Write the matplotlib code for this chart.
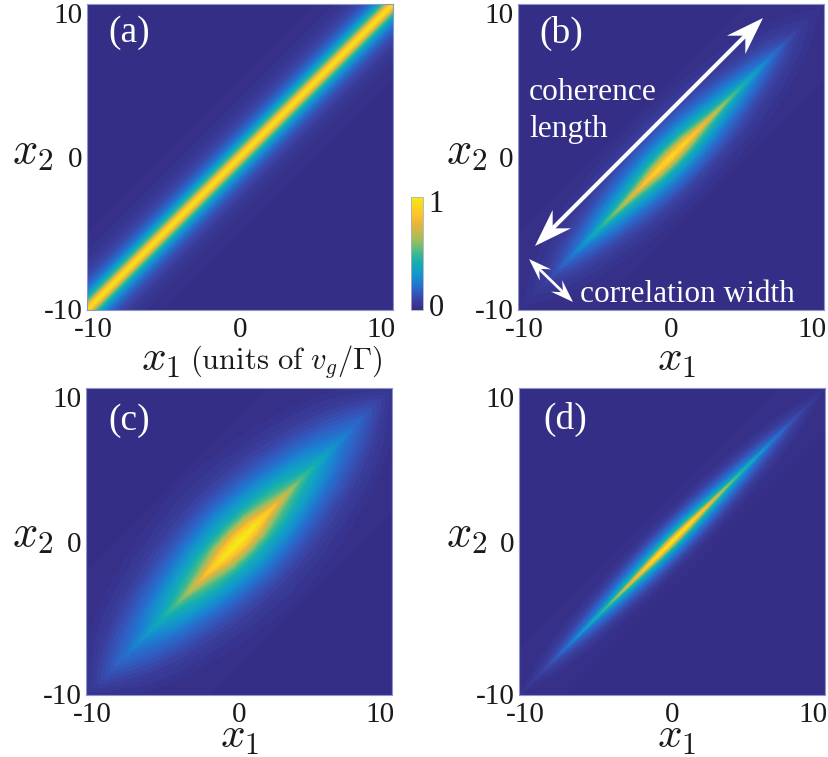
import numpy as np
import matplotlib
matplotlib.use('Agg')
import matplotlib.pyplot as plt
from matplotlib.colors import LinearSegmentedColormap
from matplotlib.cm import ScalarMappable
from matplotlib.patches import Polygon
from matplotlib.lines import Line2D
from matplotlib.transforms import Affine2D, ScaledTranslation

plt.rcParams['font.family'] = ['Liberation Serif', 'DejaVu Serif']
plt.rcParams['mathtext.fontset'] = 'cm'

W, H = 829, 757

# values: s = (x1+x2)/2 along the diagonal, d = |x1-x2| across it
s_rows = [0, 1, 2, 3, 4, 5, 6, 7, 8, 9, 10]

s_a = [0, 10]
d_a = [0, .25, .5, .75, 1, 1.5, 2, 2.5, 3, 3.5, 4, 5]
val_a = [[.96, .78, .55, .42, .32, .19, .12, .08, .05, .03, .015, 0],
         [.96, .78, .55, .42, .32, .19, .12, .08, .05, .03, .015, 0]]

d_b = [0, .3, .6, 1, 1.5, 2, 3, 4, 5]
val_b = [[.93, .78, .60, .42, .31, .22, .10, .04, .008],
         [.90, .73, .56, .40, .30, .21, .095, .035, .007],
         [.80, .58, .46, .36, .26, .185, .085, .03, .005],
         [.66, .47, .38, .30, .215, .155, .07, .025, .003],
         [.52, .38, .31, .25, .175, .12, .055, .02, 0],
         [.39, .29, .24, .19, .13, .09, .04, .012, 0],
         [.28, .21, .175, .135, .095, .065, .025, .004, 0],
         [.18, .14, .115, .09, .062, .04, .012, 0, 0],
         [.09, .07, .06, .045, .03, .018, .003, 0, 0],
         [.04, .03, .024, .015, .008, .003, 0, 0, 0],
         [.012, .007, .003, 0, 0, 0, 0, 0, 0]]

d_c = [0, .5, 1, 1.5, 2, 3, 4, 5, 6, 7, 8]
val_c = [[1, .88, .70, .52, .41, .28, .175, .105, .06, .03, .012],
         [.97, .82, .65, .50, .39, .265, .165, .10, .055, .027, .01],
         [.86, .66, .53, .44, .36, .24, .15, .09, .05, .022, .008],
         [.69, .53, .45, .38, .31, .205, .13, .08, .04, .017, .005],
         [.53, .43, .37, .32, .26, .17, .105, .062, .03, .01, 0],
         [.41, .34, .30, .255, .21, .14, .085, .045, .018, .004, 0],
         [.32, .26, .225, .195, .16, .105, .06, .028, .007, 0, 0],
         [.24, .20, .17, .145, .12, .07, .036, .01, 0, 0, 0],
         [.17, .145, .12, .095, .07, .035, .008, 0, 0, 0, 0],
         [.10, .08, .055, .035, .015, 0, 0, 0, 0, 0, 0],
         [.02, .01, .002, 0, 0, 0, 0, 0, 0, 0, 0]]

d_d = [0, .15, .3, .5, .75, 1, 1.5, 2, 2.5, 3]
val_d = [[.97, .80, .60, .42, .30, .22, .11, .045, .012, 0],
         [.95, .76, .56, .40, .29, .21, .105, .04, .01, 0],
         [.85, .60, .46, .35, .26, .19, .095, .035, .008, 0],
         [.70, .47, .38, .30, .22, .16, .08, .03, .005, 0],
         [.53, .36, .30, .24, .18, .13, .06, .02, 0, 0],
         [.40, .28, .23, .19, .14, .10, .045, .012, 0, 0],
         [.30, .21, .175, .145, .105, .075, .03, .006, 0, 0],
         [.20, .15, .125, .10, .07, .048, .015, 0, 0, 0],
         [.12, .09, .075, .06, .04, .024, .004, 0, 0, 0],
         [.06, .04, .03, .02, .01, .003, 0, 0, 0, 0],
         [.015, .008, .004, 0, 0, 0, 0, 0, 0, 0]]

ticks = [-10, 0, 10]
tick_labels = ['-10', '0', '10']

cmap_colors = ['#352e87', '#3b3f9f', '#2f5fc4', '#1b80d0', '#129cc8', '#14aeb0',
               '#3cb98f', '#86bd6a', '#b9bb52', '#e2b43e', '#fbc12d', '#f9d51f', '#f5ea14']
cmap = LinearSegmentedColormap.from_list('bar', cmap_colors)

fig = plt.figure(figsize=(W / 100, H / 100), dpi=100)
px = Affine2D().scale(1, -1).translate(0, H)


def add_axes_px(x0, x1, y0, y1):
    return fig.add_axes([x0 / W, 1 - y1 / H, (x1 - x0) / W, (y1 - y0) / H])


def panel(box, s_vals, d_vals, vals, name, name_x, name_y, xlabel_x, xlabel_y, ylabel_x, ylabel_y):
    ax = add_axes_px(*box)
    s = np.array(s_vals, float)
    d = np.array(d_vals, float)
    v = np.array(vals, float)
    # table only holds one quadrant, the picture is mirror symmetric
    s_full = np.r_[-s[:0:-1], s]
    d_full = np.r_[-d[:0:-1], d]
    v_half = np.vstack([v[:0:-1], v])
    v_full = np.hstack([v_half[:, :0:-1], v_half])
    S, D = np.meshgrid(s_full, d_full, indexing='ij')
    ax.set_facecolor(cmap_colors[0])
    ax.contourf(S + D / 2, S - D / 2, v_full, levels=np.linspace(0, 1, 51), cmap=cmap, vmin=0, vmax=1)
    ax.set_xlim(-10, 10)
    ax.set_ylim(-10, 10)
    ax.set_xticks(ticks, tick_labels, fontsize=21)
    ax.set_yticks(ticks, tick_labels, fontsize=21)
    ax.tick_params(length=0, colors='#1a1a1a')
    ax.tick_params(axis='x', pad=5)
    ax.tick_params(axis='y', pad=3)
    for sp in ax.spines.values():
        sp.set_color('#8c96cc')
        sp.set_linewidth(0.8)
    # end labels sit a bit inwards in the reference
    shift_x = [6 / 100, 0, -12 / 100]
    for lab, dx in zip(ax.get_xticklabels(), shift_x):
        lab.set_transform(lab.get_transform() + ScaledTranslation(dx, 0, fig.dpi_scale_trans))
    shift_y = [1 / 100, 0, -9 / 100]
    for lab, dy in zip(ax.get_yticklabels(), shift_y):
        lab.set_transform(lab.get_transform() + ScaledTranslation(0, dy, fig.dpi_scale_trans))
    fig.text(name_x / W, 1 - name_y / H, name, color='white', fontsize=27, va='center', ha='left')
    fig.text(xlabel_x / W, 1 - xlabel_y / H, '$x_1$', fontsize=31, ha='center', va='center', color='#1a1a1a')
    fig.text(ylabel_x / W, 1 - ylabel_y / H, '$x_2$', fontsize=32, ha='center', va='center', color='#1a1a1a')
    return ax


panel((87, 393, 4, 310), s_a, d_a, val_a, '(a)', 108, 33, 161, 361, 33, 153)
panel((518, 824, 4, 310), s_rows, d_b, val_b, '(b)', 539, 33, 677, 361, 467, 153)
panel((86, 392, 388, 695), s_rows, d_c, val_c, '(c)', 108, 421, 240, 738, 33, 536)
panel((519, 825, 388, 695), s_rows, d_d, val_d, '(d)', 543, 419, 677, 738, 467, 536)

fig.text(190 / W, 1 - 362 / H, r'$\mathrm{(units\ of\ }v_g/\Gamma\mathrm{)}$', fontsize=22,
         ha='left', va='center', color='#1a1a1a')

# colorbar
cax = add_axes_px(411, 423, 197, 310)
cb = fig.colorbar(ScalarMappable(cmap=cmap), cax=cax, ticks=[0, 1])
cb.ax.set_yticklabels(['0', '1'], fontsize=22, color='#1a1a1a')
cb.ax.tick_params(length=0, pad=4)
cb.outline.set_edgecolor('#b0b0b0')
cb.outline.set_linewidth(0.6)
for lab, dy in zip(cb.ax.get_yticklabels(), [5 / 100, -4 / 100]):
    lab.set_transform(lab.get_transform() + ScaledTranslation(0, dy, fig.dpi_scale_trans))

# annotations on panel (b), pixel positions
fig.text(529 / W, 1 - 93 / H, 'coherence', color='white', fontsize=22.7, ha='left', va='center')
fig.text(529 / W, 1 - 129 / H, 'length', color='white', fontsize=22.7, ha='left', va='center')
fig.text(580 / W, 1 - 295 / H, 'correlation width', color='white', fontsize=22.5, ha='left', va='center')


def swept_arrow(p0, p1, lw, length, half, notch):
    p0 = np.array(p0, float)
    p1 = np.array(p1, float)
    u = (p1 - p0) / np.linalg.norm(p1 - p0)
    n = np.array([-u[1], u[0]])
    for tip, dr in ((p1, u), (p0, -u)):
        base = tip - dr * length
        pts = [tip, base + n * half, tip - dr * (length - notch), base - n * half]
        fig.add_artist(Polygon(pts, closed=True, transform=px, facecolor='white', edgecolor='none'))
    # stop the shaft inside the heads so it does not poke past the tips
    fig.add_artist(Line2D([p0[0] + u[0] * 15, p1[0] - u[0] * 15], [p0[1] + u[1] * 15, p1[1] - u[1] * 15],
                          transform=px, color='white', lw=lw))


swept_arrow((535, 246), (763, 18), 2.9, 38, 13, 13)
swept_arrow((529, 259), (573, 302), 2.0, 23, 8, 9)

fig.savefig('out.png', dpi=100)
